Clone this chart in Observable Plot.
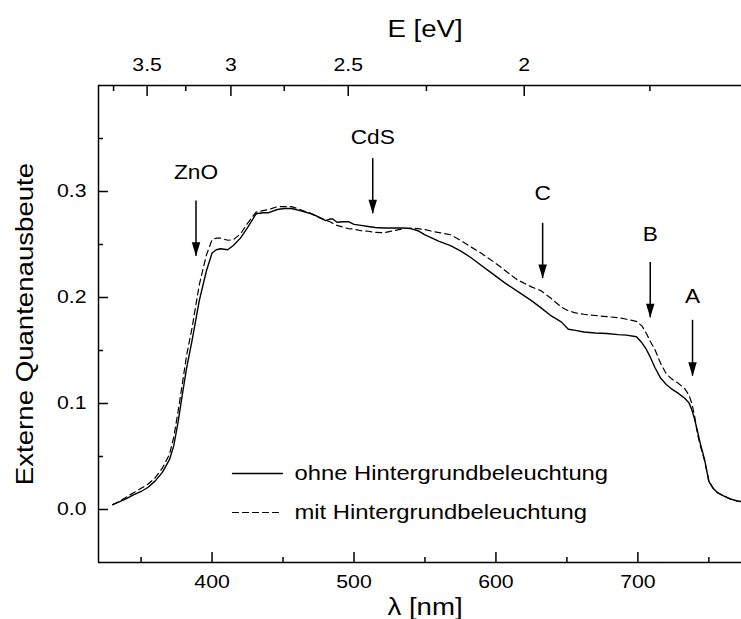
<!DOCTYPE html>
<html><head><meta charset="utf-8">
<script src="https://cdn.jsdelivr.net/npm/d3@7"></script>
<script src="https://cdn.jsdelivr.net/npm/@observablehq/plot@0.6"></script>
<style>html,body{margin:0;padding:0;background:#fff}#chart svg{display:block}</style>
</head><body><div id="chart"></div>
<script>
// Wavelength grid (nm)
const wavelength = [330,335,340,345,350,355,360,365,370,373,376,379,382,386,391,396,400,403,406,411,415,420,425,431,436,440,446,451,456,462,470,475,480,483,485,488,492,496,500,505,510,515,521,528,535,540,545,550,555,560,568,575,582,590,598,606,615,625,632,639,646,651,656,662,670,678,686,692,699,703,706,709,712,716,720,724,728,733,736,738,740,742,744,747,750,753,756,760,765,770,775];
// Externe Quantenausbeute ohne Hintergrundbeleuchtung
const ohne = [0.0045,0.0075,0.0105,0.014,0.017,0.021,0.027,0.035,0.047,0.060,0.082,0.108,0.133,0.160,0.197,0.225,0.242,0.245,0.246,0.245,0.249,0.256,0.266,0.279,0.280,0.280,0.283,0.284,0.284,0.282,0.279,0.276,0.2725,0.274,0.274,0.271,0.2715,0.2715,0.269,0.268,0.267,0.266,0.2655,0.2655,0.2655,0.265,0.263,0.259,0.256,0.253,0.249,0.244,0.238,0.230,0.222,0.214,0.206,0.197,0.190,0.1826,0.177,0.170,0.169,0.1675,0.1665,0.166,0.165,0.1645,0.163,0.157,0.151,0.143,0.134,0.124,0.118,0.1135,0.110,0.105,0.1006,0.094,0.085,0.074,0.062,0.047,0.0265,0.020,0.016,0.013,0.010,0.008,0.007];
// Externe Quantenausbeute mit Hintergrundbeleuchtung
const mit = [0.0045,0.008,0.012,0.016,0.020,0.024,0.030,0.039,0.052,0.068,0.092,0.118,0.145,0.172,0.212,0.240,0.2545,0.256,0.256,0.254,0.2545,0.260,0.270,0.2805,0.282,0.283,0.2857,0.2857,0.2857,0.283,0.279,0.2755,0.273,0.2715,0.270,0.268,0.2665,0.265,0.2645,0.263,0.2625,0.2615,0.2611,0.263,0.265,0.2654,0.265,0.264,0.2625,0.2612,0.2592,0.254,0.248,0.2415,0.234,0.226,0.2167,0.210,0.2062,0.199,0.191,0.1875,0.1855,0.1842,0.183,0.182,0.181,0.1795,0.1775,0.173,0.166,0.158,0.151,0.138,0.128,0.123,0.1195,0.114,0.108,0.100,0.088,0.071,0.060,0.046,0.027,0.020,0.016,0.013,0.010,0.008,0.007];

const seriesLabels = ["ohne Hintergrundbeleuchtung", "mit Hintergrundbeleuchtung"];

// Annotations (arrows)
const annotationNames = ["ZnO", "CdS", "C", "B", "A"];
const annotationLambda = [388.7, 513.2, 632.9, 708.7, 738.5];
const annotationTop = [0.291, 0.331, 0.270, 0.233, 0.1785];
const annotationTip = [0.239, 0.279, 0.218, 0.181, 0.1258];
const annotationLabelY = [0.318, 0.351, 0.298, 0.260, 0.201];

// Ticks
const xMajor = [400, 500, 600, 700];
const xMinor = [350, 450, 550, 650, 750];
const yMajor = [0.0, 0.1, 0.2, 0.3];
const yMinor = [0.05, 0.15, 0.25, 0.35];
const eMajor = [3.5, 3, 2.5, 2];
const eMinor = [3.75, 3.25, 2.75, 2.25, 1.75];
const xDomain = [320, 773];
const yDomain = [-0.05, 0.4];

const rows = wavelength.map((w, i) => ({w, ohne: ohne[i], mit: mit[i]}));
const notes = annotationNames.map((n, i) => ({name: n, lambda: annotationLambda[i], top: annotationTop[i], tip: annotationTip[i], ly: annotationLabelY[i]}));
const hc = 1239.84;
const eToLambda = e => hc / e;
const lambdaToE = l => String(Math.round(hc / l * 100) / 100);

const arrowHead = {
  draw(context, size) {
    const r = Math.sqrt(size / Math.PI);
    const h = 2.8 * r, w = 0.85 * r;
    context.moveTo(0, 0);
    context.lineTo(-w, -h);
    context.lineTo(w, -h);
    context.closePath();
  }
};
const segment = {
  draw(context, l) { context.moveTo(0, 0); context.lineTo(0, -l); }
};

const tick = {stroke: "black", strokeWidth: 1.5, text: null, label: null};

const plot = Plot.plot({
  width: 741,
  height: 619,
  marginLeft: 98,
  marginRight: 0,
  marginTop: 85,
  marginBottom: 57,
  style: {fontFamily: "'Liberation Sans', Arial, sans-serif", color: "black", background: "white"},
  x: {domain: xDomain, label: null},
  y: {domain: yDomain, label: null},
  marks: [
    // frame (left, top, bottom)
    Plot.ruleX([xDomain[0]], {stroke: "black", strokeWidth: 1.5}),
    Plot.ruleY([yDomain[0], yDomain[1]], {stroke: "black", strokeWidth: 1.5}),
    // bottom axis
    Plot.axisX(xMajor, {...tick, anchor: "bottom", tickSize: -10}),
    Plot.axisX(xMinor, {...tick, anchor: "bottom", tickSize: -5}),
    Plot.axisX(xMajor, {anchor: "bottom", tickSize: 0, tickPadding: 13, fontSize: 18, label: null}),
    // top axis (energy)
    Plot.axisX(eMajor.map(eToLambda), {...tick, anchor: "top", tickSize: -10}),
    Plot.axisX(eMinor.map(eToLambda), {...tick, anchor: "top", tickSize: -5}),
    Plot.axisX(eMajor.map(eToLambda), {anchor: "top", tickSize: 0, tickPadding: 15, fontSize: 18, tickFormat: lambdaToE, label: null}),
    // left axis
    Plot.axisY(yMajor, {...tick, anchor: "left", tickSize: -10}),
    Plot.axisY(yMinor, {...tick, anchor: "left", tickSize: -5}),
    Plot.axisY(yMajor, {anchor: "left", tickSize: 0, tickPadding: 12, fontSize: 18, tickFormat: d3.format(".1f"), label: null}),
    // axis titles
    Plot.text(["E [eV]"], {frameAnchor: "top", dx: 5, dy: -56, fontSize: 23, lineAnchor: "middle"}),
    Plot.text(["λ [nm]"], {frameAnchor: "bottom", dx: 5, dy: 45, fontSize: 23, lineAnchor: "middle"}),
    Plot.text(["Externe Quantenausbeute"], {frameAnchor: "left", dx: -73, rotate: -90, fontSize: 23, textAnchor: "middle", lineAnchor: "middle"}),
    // curves
    Plot.line(rows, {x: "w", y: "ohne", stroke: "black", strokeWidth: 1.4, clip: true}),
    Plot.line(rows, {x: "w", y: "mit", stroke: "black", strokeWidth: 1.2, strokeDasharray: "6,4", clip: true}),
    // arrows
    Plot.ruleX(notes, {x: "lambda", y1: "top", y2: "tip", stroke: "black", strokeWidth: 1.5}),
    Plot.dot(notes, {x: "lambda", y: "tip", symbol: arrowHead, r: 5, fill: "black", stroke: null}),
    Plot.text(notes, {x: "lambda", y: "ly", text: "name", fontSize: 21, lineAnchor: "middle"}),
    // legend
    Plot.vector([0], {frameAnchor: "top-left", dx: 134, dy: 388, length: 50, rotate: 90, anchor: "start", shape: segment, stroke: "black", strokeWidth: 1.4}),
    Plot.vector([0], {frameAnchor: "top-left", dx: 134, dy: 427, length: 50, rotate: 90, anchor: "start", shape: segment, stroke: "black", strokeWidth: 1.2, strokeDasharray: "6,4"}),
    Plot.text([seriesLabels[0]], {frameAnchor: "top-left", dx: 196, dy: 388, textAnchor: "start", lineAnchor: "middle", fontSize: 20}),
    Plot.text([seriesLabels[1]], {frameAnchor: "top-left", dx: 196, dy: 427, textAnchor: "start", lineAnchor: "middle", fontSize: 20})
  ]
});
document.getElementById("chart").appendChild(plot);

// widen glyphs horizontally to match the reference's wide lettering
const widen = {"18px": 1.18, "20px": 1.19, "21px": 1.08, "23px": 1.2};
plot.querySelectorAll("text").forEach(t => {
  const k = widen[getComputedStyle(t).fontSize];
  if (!k) return;
  const L = t.getComputedTextLength();
  if (!(L > 0)) return;
  t.setAttribute("textLength", (L * k).toFixed(1));
  t.setAttribute("lengthAdjust", "spacingAndGlyphs");
});
</script></body></html>
